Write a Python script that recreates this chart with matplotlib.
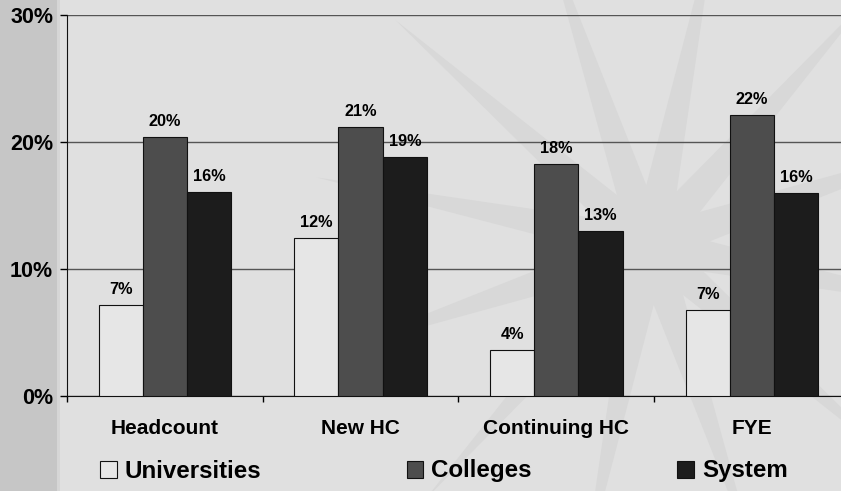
import numpy as np
import matplotlib
matplotlib.use('Agg')
from matplotlib import pyplot as plt
from matplotlib.patches import Patch, Rectangle, Polygon

# values (percent)
categories = ['Headcount', 'New HC', 'Continuing HC', 'FYE']
universities = [7.15, 12.45, 3.6, 6.75]
colleges = [20.35, 21.15, 18.25, 22.1]
system = [16.05, 18.8, 13.0, 16.0]
series_names = ['Universities', 'Colleges', 'System']
y_ticks = [0, 10, 20, 30]

colors = ['#e6e6e6', '#4d4d4d', '#1c1c1c']
bg = '#e0e0e0'
plt.rcParams['font.family'] = ['Liberation Sans', 'DejaVu Sans']
plt.rcParams['font.weight'] = 'bold'

W, H = 841, 491
fig = plt.figure(figsize=(W / 100, H / 100), dpi=100)
fig.patch.set_facecolor(bg)

# grey strip on the left
fig.patches.append(Rectangle((0, 0), 57 / W, 1, transform=fig.transFigure,
                             facecolor='#c6c6c6', edgecolor='none', zorder=-5))
fig.patches.append(Rectangle((57 / W, 0), 3 / W, 1, transform=fig.transFigure,
                             facecolor='#d6d6d6', edgecolor='none', zorder=-5))

# faint starburst watermark
cx, cy = 650, 245
n = 12
angles = np.linspace(0, 2 * np.pi, 2 * n, endpoint=False) + 0.2
radii = np.where(np.arange(2 * n) % 2 == 0, 340, 60)
pts = [((cx + r * np.cos(a)) / W, 1 - (cy + r * np.sin(a)) / H) for r, a in zip(radii, angles)]
fig.patches.append(Polygon(pts, closed=True, transform=fig.transFigure,
                           facecolor='#d8d8d8', edgecolor='none', zorder=-4))

ax = fig.add_axes([67 / W, 1 - 395.7 / H, 4 * 195.7 / W, 380.7 / H])
ax.set_facecolor('none')
ax.set_zorder(1)

x = np.arange(len(categories)) + 0.5
bw = 0.226
for i, (vals, name) in enumerate(zip([universities, colleges, system], series_names)):
    xs = x + (i - 1) * bw
    ax.bar(xs, vals, width=bw, color=colors[i], edgecolor='#111111', linewidth=0.8,
           label=name, zorder=3)
    for xi, v in zip(xs, vals):
        ax.annotate(f'{v:.0f}%', (xi, v), xytext=(0, 8), textcoords='offset points',
                    ha='center', va='baseline', fontsize=11.7, fontweight='bold')

ax.set_xlim(0, 4)
ax.set_ylim(0, 30)
ax.set_yticks(y_ticks)
ax.set_yticklabels([f'{t}%' for t in y_ticks])
ax.yaxis.grid(True, color='#555555', linewidth=1, zorder=1)
ax.set_axisbelow(True)
ax.tick_params(axis='y', direction='out', length=5, width=1, pad=5, labelsize=15.5)

ax.set_xticks(np.arange(5))
ax.set_xticklabels([])
ax.set_xticks(x, minor=True)
ax.set_xticklabels(categories, minor=True)
ax.tick_params(axis='x', which='major', direction='out', length=4, width=1)
ax.tick_params(axis='x', which='minor', length=0, pad=17, labelsize=15)

for s in ['top', 'right']:
    ax.spines[s].set_visible(False)
ax.spines['left'].set_color('#111111')
ax.spines['bottom'].set_color('#111111')

handles = [Patch(facecolor=c, edgecolor='#111111', linewidth=0.8) for c in colors]
fig.legend(handles, series_names, loc='center left', bbox_to_anchor=(100 / W, 1 - 471 / H),
           ncol=3, frameon=False, prop={'weight': 'bold', 'size': 17.4},
           handlelength=0.7, handleheight=0.7, handletextpad=0.33, columnspacing=6.0,
           borderpad=0, borderaxespad=0)

fig.savefig('out.png', dpi=100, facecolor=fig.get_facecolor())
